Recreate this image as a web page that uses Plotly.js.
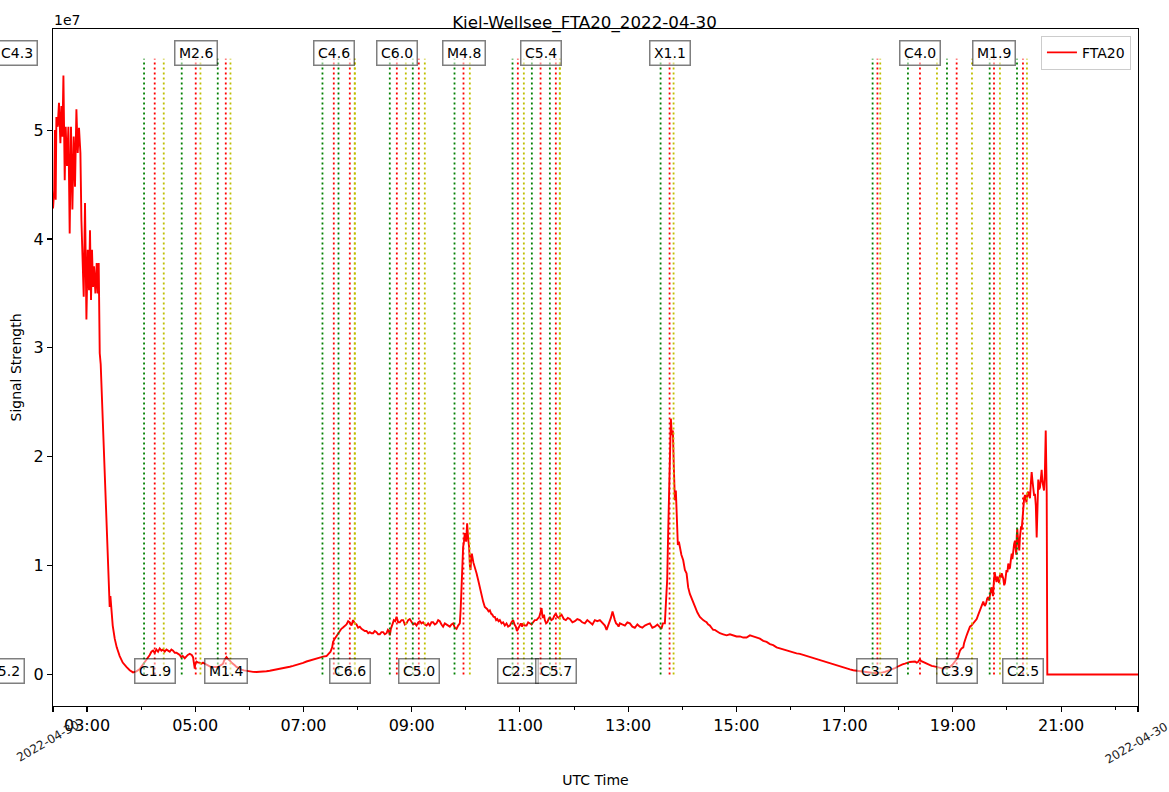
<!DOCTYPE html>
<html><head><meta charset="utf-8">
<script src="https://cdn.plot.ly/plotly-3.0.1.min.js"></script>
<style>html,body{margin:0;padding:0;background:#fff}#chart{width:1169px;height:792px}</style>
</head><body><div id="chart"></div>
<script>
// ---- data (time in decimal UTC hours on 2022-04-30, signal in units of 1e7) ----
const hours = [
2.372,2.394,2.408,2.421,2.434,2.458,2.482,2.508,2.527,2.545,2.564,2.588,2.606,2.630,2.656,2.680,2.704,2.730,2.754,2.778,
2.804,2.828,2.852,2.878,2.896,2.915,2.939,2.963,2.989,3.013,3.037,3.055,3.074,3.092,3.111,3.129,3.155,3.179,3.198,3.216,
3.235,3.253,3.272,3.290,3.309,3.327,3.346,3.364,3.383,3.401,3.419,3.432,3.451,3.475,3.512,3.549,3.604,3.660,3.728,3.789,
3.850,3.913,3.974,4.035,4.098,4.159,4.190,4.220,4.250,4.283,4.313,4.344,4.375,4.405,4.436,4.468,4.498,4.529,4.560,4.590,
4.622,4.653,4.684,4.714,4.740,4.769,4.806,4.840,4.862,4.898,4.935,4.959,4.975,4.991,5.000,5.022,5.052,5.083,5.114,5.144,
5.175,5.207,5.238,5.268,5.300,5.329,5.360,5.392,5.422,5.453,5.484,5.514,5.535,5.555,5.577,5.610,5.638,5.668,5.699,5.730,
5.762,5.808,5.854,5.900,5.946,6.007,6.068,6.130,6.192,6.254,6.316,6.377,6.438,6.500,6.562,6.624,6.686,6.747,6.808,6.870,
6.932,6.994,7.056,7.117,7.178,7.240,7.302,7.363,7.425,7.468,7.500,7.530,7.547,7.578,7.615,7.643,7.671,7.700,7.726,7.760,
7.795,7.826,7.856,7.887,7.917,7.950,7.980,8.010,8.041,8.072,8.102,8.134,8.165,8.196,8.226,8.257,8.287,8.318,8.349,8.380,
8.410,8.441,8.472,8.503,8.535,8.560,8.577,8.596,8.615,8.633,8.650,8.670,8.695,8.719,8.750,8.780,8.811,8.842,8.873,8.904,
8.935,8.965,8.996,9.027,9.058,9.089,9.120,9.150,9.181,9.211,9.243,9.274,9.304,9.334,9.365,9.396,9.427,9.458,9.489,9.519,
9.550,9.580,9.612,9.643,9.673,9.704,9.735,9.765,9.797,9.828,9.858,9.889,9.905,9.917,9.935,9.950,9.965,9.981,10.006,10.024,
10.043,10.061,10.075,10.087,10.100,10.111,10.139,10.167,10.198,10.227,10.259,10.290,10.320,10.351,10.375,10.397,10.420,10.444,10.467,10.490,
10.513,10.536,10.560,10.582,10.605,10.628,10.660,10.690,10.720,10.752,10.782,10.813,10.844,10.874,10.900,10.924,10.945,10.967,10.990,11.017,
11.040,11.059,11.090,11.122,11.152,11.183,11.214,11.244,11.275,11.307,11.335,11.358,11.380,11.399,11.415,11.429,11.445,11.460,11.483,11.506,
11.530,11.553,11.580,11.608,11.635,11.663,11.690,11.719,11.745,11.769,11.810,11.848,11.885,11.922,11.970,12.015,12.060,12.107,12.150,12.199,
12.245,12.292,12.340,12.384,12.430,12.477,12.510,12.538,12.570,12.601,12.625,12.652,12.680,12.711,12.730,12.754,12.777,12.800,12.823,12.846,
12.890,12.939,12.985,13.031,13.077,13.123,13.170,13.216,13.262,13.308,13.355,13.401,13.447,13.493,13.540,13.585,13.615,13.641,13.678,13.702,
13.721,13.739,13.758,13.776,13.789,13.807,13.826,13.844,13.863,13.881,13.900,13.918,13.937,13.955,13.983,14.017,14.048,14.079,14.109,14.140,
14.186,14.233,14.279,14.325,14.356,14.386,14.418,14.449,14.480,14.510,14.540,14.571,14.602,14.634,14.665,14.695,14.757,14.819,14.880,14.941,
15.003,15.065,15.127,15.188,15.250,15.310,15.372,15.434,15.496,15.558,15.620,15.680,15.742,15.804,15.866,15.928,15.990,16.050,16.112,16.174,
16.236,16.297,16.358,16.419,16.481,16.543,16.605,16.667,16.728,16.789,16.851,16.913,16.975,17.037,17.098,17.159,17.221,17.283,17.345,17.406,
17.468,17.529,17.590,17.652,17.700,17.745,17.790,17.837,17.885,17.930,17.976,18.022,18.068,18.115,18.160,18.207,18.253,18.300,18.330,18.355,
18.375,18.392,18.410,18.429,18.470,18.516,18.560,18.608,18.655,18.701,18.760,18.823,18.885,18.946,18.990,19.039,19.070,19.094,19.112,19.131,
19.160,19.192,19.208,19.223,19.247,19.270,19.292,19.316,19.343,19.371,19.405,19.440,19.470,19.501,19.530,19.562,19.590,19.612,19.635,19.654,
19.670,19.686,19.702,19.717,19.729,19.741,19.757,19.773,19.790,19.806,19.822,19.839,19.855,19.870,19.886,19.902,19.917,19.932,19.948,19.963,
19.977,19.991,20.008,20.024,20.040,20.055,20.071,20.087,20.100,20.116,20.132,20.148,20.160,20.172,20.181,20.190,20.208,20.227,20.238,20.249,
20.260,20.271,20.286,20.301,20.317,20.333,20.347,20.360,20.376,20.393,20.409,20.425,20.440,20.456,20.471,20.486,20.502,20.517,20.533,20.549,
20.563,20.578,20.594,20.610,20.626,20.641,20.653,20.665,20.684,20.700,20.716,20.725,20.734,20.745,22.421
];
const signal = [
4.28,4.45,5.00,4.36,5.12,5.03,5.25,4.88,5.22,4.94,5.50,4.54,5.03,4.67,5.03,4.05,5.03,4.27,4.94,4.48,
5.19,4.79,5.02,4.79,4.18,3.93,3.47,4.33,3.26,3.90,3.53,4.08,3.44,3.90,3.56,3.75,3.50,3.78,3.50,3.78,
2.95,2.85,2.60,2.34,2.05,1.79,1.50,1.23,1.02,0.87,0.62,0.72,0.55,0.45,0.33,0.25,0.17,0.11,0.07,0.04,
0.02,0.03,0.05,0.09,0.13,0.18,0.21,0.22,0.20,0.23,0.21,0.24,0.22,0.23,0.21,0.23,0.22,0.21,0.23,0.22,
0.20,0.20,0.19,0.18,0.16,0.17,0.15,0.17,0.18,0.19,0.18,0.16,0.10,0.055,0.10,0.12,0.11,0.11,0.10,0.11,
0.10,0.09,0.08,0.076,0.07,0.07,0.065,0.064,0.07,0.08,0.09,0.10,0.13,0.15,0.16,0.14,0.13,0.11,0.10,0.085,
0.07,0.055,0.045,0.038,0.033,0.028,0.025,0.024,0.024,0.027,0.03,0.035,0.04,0.045,0.05,0.057,0.064,0.072,0.08,0.088,
0.095,0.107,0.12,0.13,0.14,0.15,0.16,0.165,0.17,0.19,0.21,0.25,0.30,0.33,0.36,0.38,0.40,0.42,0.43,0.45,
0.46,0.49,0.48,0.45,0.50,0.47,0.46,0.43,0.44,0.42,0.41,0.40,0.40,0.38,0.39,0.38,0.38,0.40,0.39,0.37,
0.37,0.39,0.39,0.37,0.38,0.41,0.40,0.36,0.42,0.46,0.47,0.50,0.49,0.53,0.48,0.48,0.50,0.50,0.46,0.47,
0.50,0.51,0.48,0.46,0.47,0.45,0.48,0.49,0.47,0.48,0.46,0.45,0.47,0.45,0.48,0.48,0.46,0.47,0.50,0.49,
0.46,0.44,0.47,0.46,0.45,0.44,0.46,0.47,0.43,0.42,0.45,0.47,0.60,0.80,1.05,1.17,1.22,1.30,1.22,1.39,
1.25,1.17,1.00,0.96,1.08,1.11,1.03,0.99,0.93,0.87,0.80,0.71,0.67,0.62,0.61,0.60,0.58,0.59,0.56,0.55,
0.53,0.53,0.50,0.51,0.49,0.50,0.47,0.48,0.45,0.47,0.44,0.45,0.48,0.50,0.46,0.44,0.40,0.42,0.45,0.47,
0.44,0.47,0.45,0.45,0.48,0.47,0.46,0.48,0.50,0.50,0.52,0.53,0.57,0.61,0.54,0.52,0.55,0.50,0.47,0.48,
0.51,0.53,0.50,0.51,0.54,0.56,0.53,0.52,0.54,0.55,0.51,0.50,0.52,0.51,0.48,0.49,0.51,0.50,0.48,0.47,
0.50,0.48,0.46,0.50,0.49,0.50,0.48,0.47,0.45,0.41,0.44,0.48,0.52,0.58,0.53,0.50,0.47,0.46,0.44,0.47,
0.46,0.45,0.48,0.47,0.44,0.43,0.46,0.44,0.43,0.45,0.46,0.47,0.43,0.44,0.46,0.44,0.42,0.47,0.47,0.70,
0.87,1.30,1.63,2.10,2.35,2.20,2.24,1.90,1.60,1.69,1.45,1.19,1.22,1.17,1.10,1.05,0.96,0.93,0.80,0.74,
0.68,0.62,0.57,0.53,0.51,0.50,0.49,0.48,0.46,0.45,0.43,0.41,0.41,0.40,0.39,0.38,0.37,0.36,0.37,0.36,
0.35,0.35,0.34,0.34,0.36,0.35,0.34,0.33,0.31,0.30,0.28,0.27,0.25,0.24,0.23,0.22,0.21,0.20,0.195,0.19,
0.18,0.17,0.16,0.15,0.14,0.13,0.12,0.11,0.10,0.09,0.08,0.07,0.062,0.055,0.047,0.04,0.035,0.03,0.025,0.02,
0.017,0.015,0.014,0.015,0.02,0.025,0.032,0.04,0.05,0.06,0.072,0.085,0.093,0.10,0.11,0.116,0.118,0.12,0.11,0.115,
0.13,0.14,0.125,0.12,0.11,0.10,0.09,0.08,0.075,0.07,0.06,0.055,0.06,0.07,0.09,0.116,0.14,0.16,0.19,0.22,
0.24,0.25,0.29,0.32,0.35,0.38,0.41,0.44,0.45,0.47,0.49,0.51,0.55,0.59,0.62,0.67,0.63,0.65,0.70,0.71,
0.68,0.75,0.78,0.80,0.74,0.72,0.85,0.94,0.89,0.85,0.90,0.87,0.84,0.92,0.89,0.93,0.91,0.88,0.82,0.84,
0.90,0.96,0.94,1.02,0.97,0.98,1.05,1.11,1.06,1.18,1.20,1.23,1.15,1.10,1.28,1.34,1.22,1.14,1.25,1.30,
1.36,1.33,1.45,1.57,1.62,1.65,1.60,1.58,1.66,1.68,1.64,1.62,1.75,1.86,1.78,1.70,1.64,1.66,1.55,1.26,
1.60,1.79,1.70,1.72,1.80,1.88,1.78,1.75,1.69,1.85,2.24,1.95,1.66,0.0,0.0
];
// flare events (decimal UTC hours): start / peak / end
const flareClass = ['C5.2','C4.3','C1.9','M2.6','M1.4','C4.6','C6.6','C6.0','C5.0','M4.8','C2.3','C5.4','C5.7','X1.1','C3.2','C4.0','C3.9','M1.9','C2.5'];
const flareStart = [1.30,1.60,4.054,4.750,5.416,7.351,7.647,8.595,9.020,9.791,10.863,11.220,11.553,13.599,17.517,18.170,18.891,19.680,20.185];
const flarePeak  = [1.470,1.701,4.251,5.009,5.564,7.560,7.856,8.725,9.131,9.957,10.961,11.381,11.663,13.765,17.606,18.392,19.070,19.760,20.295];
const flareEnd   = [1.60,1.85,4.418,5.096,5.651,7.948,7.948,8.891,9.242,10.074,11.072,11.737,11.737,13.839,17.658,18.706,19.353,19.870,20.369];
const xTickHours = [3,5,7,9,11,13,15,17,19,21];
const xTickText = ['03:00','05:00','07:00','09:00','11:00','13:00','15:00','17:00','19:00','21:00'];
const xMinorHours = [4,6,8,10,12,14,16,18,20,22];
const yTickVals = [0,1,2,3,4,5];
const yTickText = ['0','1','2','3','4','5'];

// ---- build ----
const dayMs = Date.UTC(2022,3,30);
function toDate(h){ return new Date(dayMs + Math.round(h*3600000)).toISOString().replace('T',' ').replace('Z',''); }
const xMinH = hours[0] - 0.0005, xMaxH = hours[hours.length-1];
const vTop = 5.655;
const FONT = 'DejaVu Sans, Verdana, sans-serif';

const traces = [{
  type:'scatter', mode:'lines', name:'FTA20',
  x: hours.map(toDate), y: signal,
  line:{color:'#ff0000', width:1.9}
}];
function vlines(arr, color){
  const xs=[], ys=[];
  arr.forEach(h=>{ const d=toDate(h); xs.push(d,d,null); ys.push(0,vTop,null); });
  return {type:'scatter', mode:'lines', x:xs, y:ys, showlegend:false, hoverinfo:'skip',
          line:{color:color, width:1.8, dash:'2px,3px'}};
}
traces.push(vlines(flareStart,'#008000'));
traces.push(vlines(flarePeak,'#ff0000'));
traces.push(vlines(flareEnd,'#bfbf00'));

const annotations = [];
flareClass.forEach((c,i)=>{
  const h = flarePeak[i];
  const inRange = h >= xMinH && h <= xMaxH;
  const a = {
    text:c, showarrow:false,
    yref:'y', y: (i%2===1) ? 5.706 : 0.035, yanchor:'middle',
    xanchor:'center',
    font:{family:FONT, size:14, color:'black'},
    bgcolor:'rgba(255,255,255,0.5)', bordercolor:'rgba(0,0,0,0.5)', borderwidth:1.5, borderpad:3.5
  };
  if(inRange){ a.xref='x'; a.x=toDate(h); }
  else { a.xref='paper'; a.x=(h-xMinH)/(xMaxH-xMinH); }
  annotations.push(a);
});
annotations.push({text:'1e7', showarrow:false, xref:'paper', x:0, xanchor:'left', xshift:-1,
  yref:'paper', y:1, yanchor:'bottom', yshift:-1, font:{family:FONT, size:14, color:'black'}});
annotations.push({text:'2022-04-30', showarrow:false, xref:'paper', x:0, xanchor:'center', xshift:-5,
  yref:'paper', y:0, yanchor:'middle', yshift:-35, textangle:-30, font:{family:FONT, size:12, color:'#222'}});
annotations.push({text:'2022-04-30 -', showarrow:false, xref:'paper', x:1, xanchor:'center', xshift:2,
  yref:'paper', y:0, yanchor:'middle', yshift:-35, textangle:-30, font:{family:FONT, size:12, color:'#222'}});

const tickvals = [toDate(xMinH)].concat(xTickHours.map(toDate), [toDate(xMaxH)]);
const ticktext = [''].concat(xTickText, ['']);

const layout = {
  width:1169, height:792,
  margin:{l:53, r:31, t:29, b:86, pad:0},
  paper_bgcolor:'white', plot_bgcolor:'white',
  font:{family:FONT, size:14, color:'black'},
  title:{text:'Kiel-Wellsee_FTA20_2022-04-30', font:{family:FONT, size:16.7, color:'black'},
         xref:'container', x:0.5, xanchor:'center', yref:'container', y:1-22.5/792, yanchor:'middle'},
  showlegend:true,
  xaxis:{type:'date', range:[toDate(xMinH), toDate(xMaxH)], tickmode:'array', tickvals:tickvals, ticktext:ticktext,
    ticks:'outside', ticklen:5, tickwidth:1.1, tickcolor:'black', showline:true, mirror:true, linecolor:'black', linewidth:1.1,
    showgrid:false, zeroline:false, tickfont:{family:FONT, size:16, color:'black'},
    minor:{tickmode:'array', tickvals:xMinorHours.map(toDate), ticks:'outside', ticklen:2.8, tickwidth:1, tickcolor:'black', showgrid:false},
    title:{text:'UTC Time', font:{family:FONT, size:14, color:'black'}, standoff:40}},
  yaxis:{range:[-0.2886, 5.928], tickmode:'array', tickvals:yTickVals, ticktext:yTickText,
    ticks:'outside', ticklen:5, tickwidth:1.1, tickcolor:'black', showline:true, mirror:true, linecolor:'black', linewidth:1.1,
    showgrid:false, zeroline:false, tickfont:{family:FONT, size:16, color:'black'},
    title:{text:'Signal Strength', font:{family:FONT, size:14, color:'black'}, standoff:8}},
  legend:{x:0.9935, xanchor:'right', y:0.990, yanchor:'top', bgcolor:'rgba(255,255,255,0.8)', bordercolor:'#cccccc', borderwidth:1,
    font:{family:FONT, size:14, color:'black'}},
  annotations:annotations
};
Plotly.newPlot('chart', traces, layout, {displayModeBar:false, staticPlot:true});
</script></body></html>
